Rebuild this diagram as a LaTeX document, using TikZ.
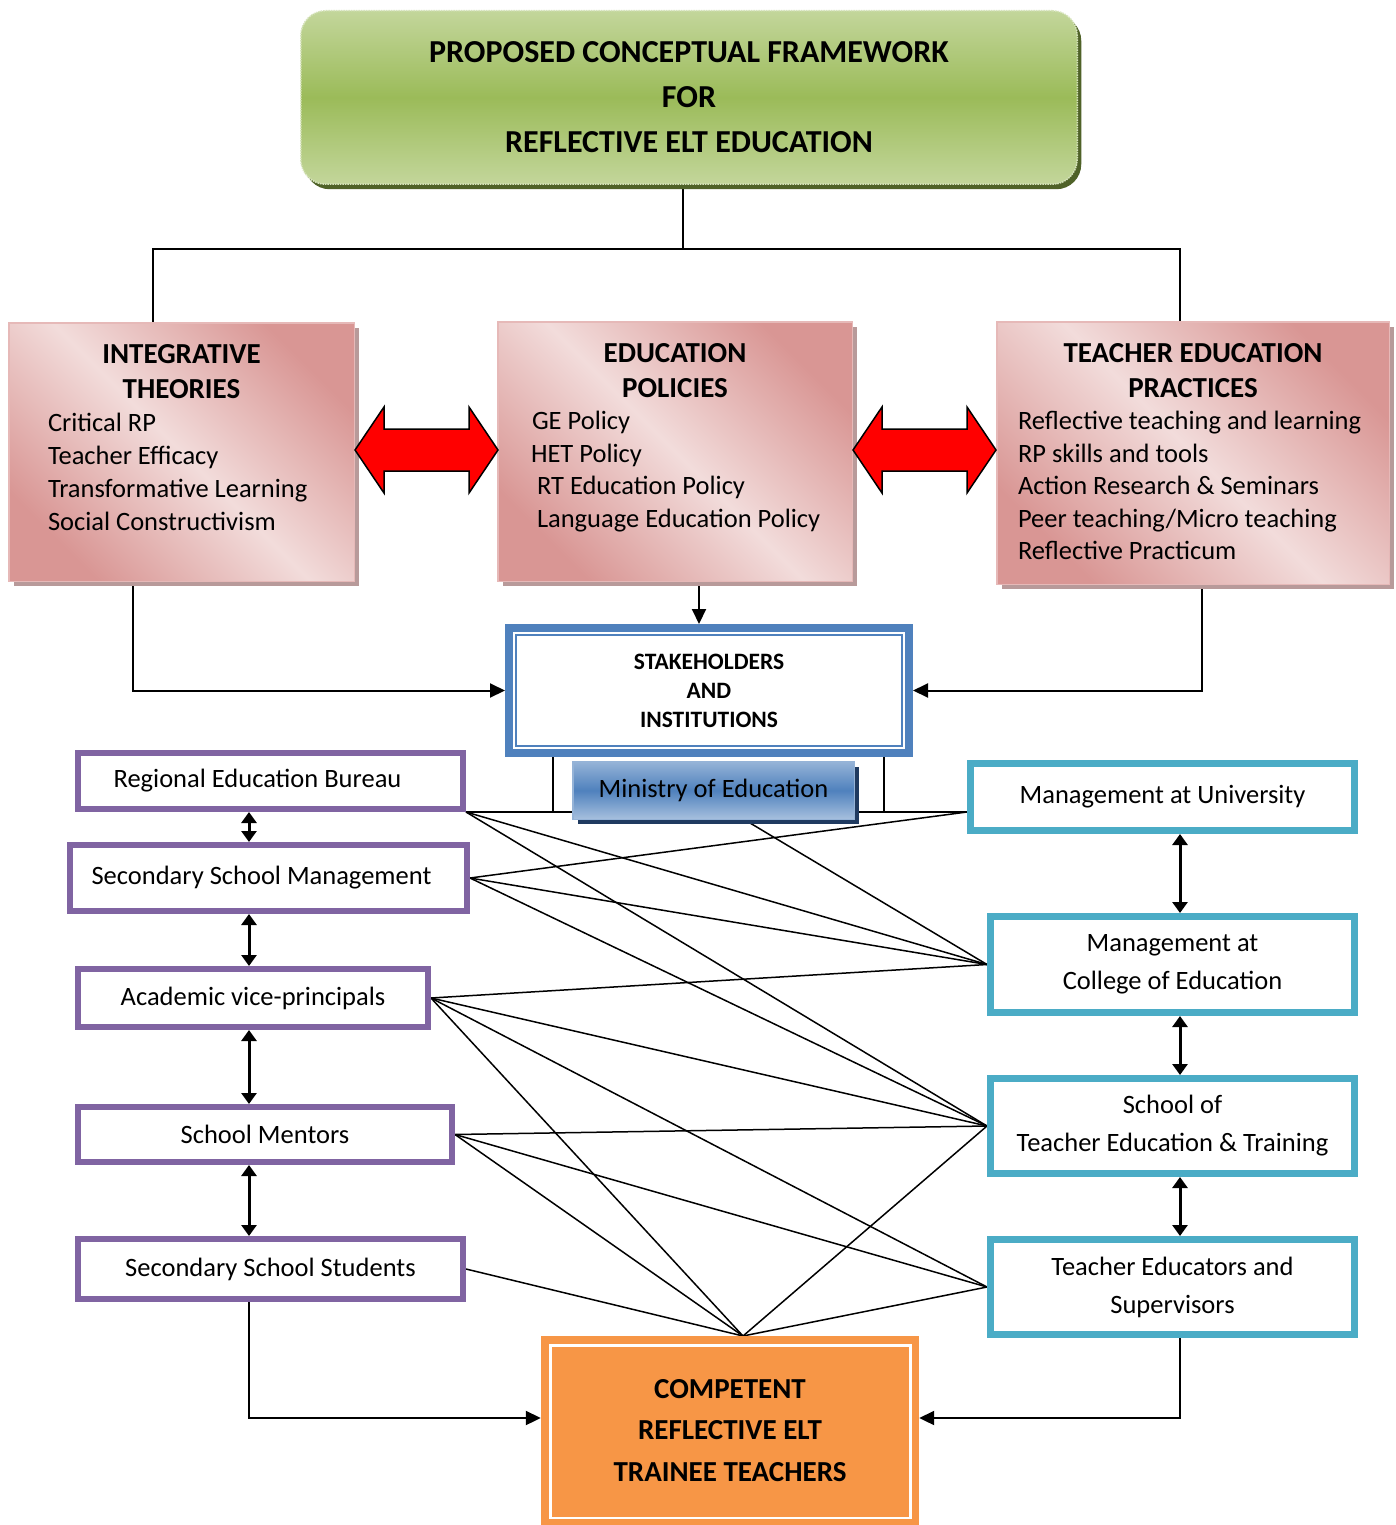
\documentclass[tikz,border=0pt]{standalone}
\usepackage{fontspec}
\setmainfont{Carlito}
\usepackage{tikz}
\usetikzlibrary{arrows.meta}
\usetikzlibrary{shadows}
\usetikzlibrary{backgrounds}
\usepackage{xcolor}
\definecolor{leafgreen}{HTML}{9BBB59}
\definecolor{leaflight}{HTML}{C3D69B}
\definecolor{leafdark}{HTML}{4F6228}
\definecolor{leafedge}{HTML}{D7E4BD}
\definecolor{rosedeep}{HTML}{D99694}
\definecolor{roselight}{HTML}{F2DCDB}
\definecolor{roseedge}{HTML}{E6B9B8}
\definecolor{roseshade}{HTML}{B89A9A}
\definecolor{stakeblue}{HTML}{4F81BD}
\definecolor{moelight}{HTML}{95B3D7}
\definecolor{moepale}{HTML}{A7C0DE}
\definecolor{moeshade}{HTML}{1F3A60}
\definecolor{schoolviolet}{HTML}{8064A2}
\definecolor{collegeteal}{HTML}{4BACC6}
\definecolor{traineeorange}{HTML}{F79646}
\setlength{\parindent}{0pt}
\newcommand{\boxhead}{\centering\bfseries\fontsize{29}{35}\selectfont}

\tikzset{
  link/.style={line width=1.5pt},
  feed/.style={line width=2pt,-{Triangle[length=15pt,width=14pt]}},
  biarrow/.style={line width=3pt,{Triangle[length=11pt,width=15pt]}-{Triangle[length=11pt,width=15pt]}},
  redarrow/.style={fill=red,draw=black,line width=1.5pt,line join=miter},
  titlebox/.style={rounded corners=25pt,draw=leafedge,densely dotted,line width=1.5pt,top color=leaflight,bottom color=leaflight,middle color=leafgreen,drop shadow={shadow xshift=4pt,shadow yshift=-5pt,fill=leafdark,opacity=1},align=center,font=\fontsize{32}{45}\selectfont\bfseries},
  pinkbox/.style={draw=roseedge,line width=1.5pt,top color=rosedeep,bottom color=rosedeep,middle color=roselight,shading angle=-45,drop shadow={shadow xshift=5pt,shadow yshift=-5pt,fill=roseshade,opacity=1}},
  pinktext/.style={anchor=north,inner sep=0pt,align=flush left},
  stakebox/.style={draw=stakeblue,line width=8pt,fill=white,align=center,font=\fontsize{23.5}{29}\selectfont\bfseries},
  moebox/.style={draw=moelight,line width=1.5pt,top color=moelight,bottom color=moepale,middle color=stakeblue,drop shadow={shadow xshift=5pt,shadow yshift=-5pt,fill=moeshade,opacity=1},font=\fontsize{26.5}{32}\selectfont},
  schoolbox/.style={draw=schoolviolet,line width=6pt,fill=white,inner sep=0pt,align=center,font=\fontsize{26.5}{38}\selectfont},
  collegebox/.style={draw=collegeteal,line width=7pt,fill=white,inner sep=0pt,align=center,font=\fontsize{26.5}{38}\selectfont},
  traineebox/.style={fill=traineeorange,align=center,font=\fontsize{29}{41.5}\selectfont\bfseries}
}

\begin{document}
\begin{tikzpicture}[x=1pt,y=-1pt]
	\useasboundingbox (0,0) rectangle (1395,1525);
	% title
	\node[titlebox,minimum width=776.5pt,minimum height=173.5pt] (ttl) at (689,97.5) {PROPOSED CONCEPTUAL FRAMEWORK\\FOR\\REFLECTIVE ELT EDUCATION};
	% the three pillars
	\node[pinkbox,minimum width=345.5pt,minimum height=258.5pt] (itp) at (181.5,452) {};
	\node[pinkbox,minimum width=354.5pt,minimum height=259.5pt] (edp) at (675,451.5) {};
	\node[pinkbox,minimum width=392.5pt,minimum height=262.5pt] (tep) at (1193,453) {};
	\node[pinktext,text width=267pt,font=\fontsize{26.5}{33}\selectfont] (itptxt) at (181.5,344) {{\boxhead INTEGRATIVE\\THEORIES\par}Critical RP\\Teacher Efficacy\\Transformative Learning\\Social Constructivism};
	\node[pinktext,text width=300pt,font=\fontsize{26.5}{32.5}\selectfont] (edptxt) at (675,343) {{\boxhead EDUCATION\\POLICIES\par}\hspace*{7pt}GE Policy\\\hspace*{6pt}HET Policy\\\hspace*{12pt}RT Education Policy\\\hspace*{12pt}Language Education Policy};
	\node[pinktext,text width=350pt,font=\fontsize{26.5}{32.5}\selectfont] (teptxt) at (1193,343) {{\boxhead TEACHER EDUCATION\\PRACTICES\par}Reflective teaching and learning\\RP skills and tools\\Action Research \& Seminars\\Peer teaching/Micro teaching\\Reflective Practicum};
	\foreach \ax in {355,853}
		\draw[redarrow] (\ax,450) -- ++(29,-43) -- ++(0,22) -- ++(85,0) -- ++(0,-22) -- ++(29,43) -- ++(-29,43) -- ++(0,-22) -- ++(-85,0) -- ++(0,22) -- cycle;
	% stakeholders
	\node[stakebox,minimum width=400pt,minimum height=125pt] (stk) at (709,690.5) {STAKEHOLDERS\\AND\\INSTITUTIONS};
	\draw[stakeblue,line width=1.5pt] ([shift={(11,11)}]stk.north west) rectangle ([shift={(-11,-11)}]stk.south east);
	\node[moebox,minimum width=281.5pt,minimum height=57.5pt] (moe) at (713.5,790.5) {Ministry of Education};
	% school side
	\node[schoolbox,minimum width=385pt,minimum height=56pt] (reb) at (270.5,781) {Regional Education Bureau\hspace*{26pt}};
	\node[schoolbox,minimum width=397pt,minimum height=66pt] (ssm) at (268.5,878) {Secondary School Management\hspace*{14pt}};
	\node[schoolbox,minimum width=350pt,minimum height=58pt] (avp) at (253,998) {Academic vice-principals};
	\node[schoolbox,minimum width=374pt,minimum height=55pt] (smn) at (265,1134.5) {School Mentors};
	\node[schoolbox,minimum width=385pt,minimum height=60pt] (sss) at (270.5,1269) {Secondary School Students};
	% college side
	\node[collegebox,minimum width=384pt,minimum height=67pt] (mu) at (1162.5,797) {Management at University};
	\node[collegebox,minimum width=364pt,minimum height=96pt] (mc) at (1172.5,964.5) {Management at\\College of Education};
	\node[collegebox,minimum width=364pt,minimum height=95pt] (ste) at (1172.5,1126) {School of\\Teacher Education \& Training};
	\node[collegebox,minimum width=364pt,minimum height=95pt] (tes) at (1172.5,1287) {Teacher Educators and\\Supervisors};
	% outcome
	\node[traineebox,minimum width=378pt,minimum height=189pt] (crt) at (730,1430.5) {COMPETENT\\REFLECTIVE ELT\\TRAINEE TEACHERS};
	\draw[white,line width=2.5pt] ([shift={(9.5,9.5)}]crt.north west) rectangle ([shift={(-8.5,-7)}]crt.south east);
	%
	\coordinate (lx) at (249,0);
	\coordinate (rx) at (1180,0);
	\coordinate (meet) at (743,1336);
	\coordinate (moefoot) at (745,820);
	\coordinate (unicorner) at (reb.south east -| mu.west);
	%
	\begin{scope}[on background layer]
		\fill[white] (0,0) rectangle (1395,1525);
		\draw[link] ([xshift=-6pt]ttl.south) -- ++(0,64) coordinate (split);
		\draw[link] ([xshift=-28.5pt]itp.north) |- (split) -| ([xshift=-13pt]tep.north);
		\draw[feed] ([xshift=-48.5pt]itp.south) |- (stk.west);
		\draw[feed] ([xshift=24pt]edp.south) -- ([xshift=24pt]edp.south |- stk.north);
		\draw[feed] ([xshift=9pt]tep.south) |- (stk.east);
		\draw[link] ([xshift=-156pt]stk.south) -- ([xshift=-156pt]stk.south |- reb.south east);
		\draw[link] ([xshift=175pt]stk.south) -- ([xshift=175pt]stk.south |- reb.south east);
		\draw[link] (reb.south east) -- (unicorner);
		\foreach \a/\b in {reb.south east/mc.west, reb.south east/ste.west,
			ssm.east/unicorner, ssm.east/mc.west, ssm.east/ste.west, moefoot/mc.west,
			avp.east/mc.west, avp.east/ste.west, avp.east/tes.west, avp.east/meet,
			smn.east/ste.west, smn.east/tes.west, smn.east/meet,
			sss.east/meet, ste.west/meet, tes.west/meet}
			\draw[link] (\a) -- (\b);
	\end{scope}
	%
	\draw[biarrow] (reb.south -| lx) -- (ssm.north -| lx);
	\draw[biarrow] (ssm.south -| lx) -- (avp.north -| lx);
	\draw[biarrow] (avp.south -| lx) -- (smn.north -| lx);
	\draw[biarrow] (smn.south -| lx) -- (sss.north -| lx);
	\draw[biarrow] (mu.south -| rx) -- (mc.north -| rx);
	\draw[biarrow] (mc.south -| rx) -- (ste.north -| rx);
	\draw[biarrow] (ste.south -| rx) -- (tes.north -| rx);
	\draw[feed] (sss.south -| lx) |- ([yshift=12.5pt]crt.west);
	\draw[feed] (tes.south -| rx) |- ([yshift=12.5pt]crt.east);
\end{tikzpicture}
\end{document}
